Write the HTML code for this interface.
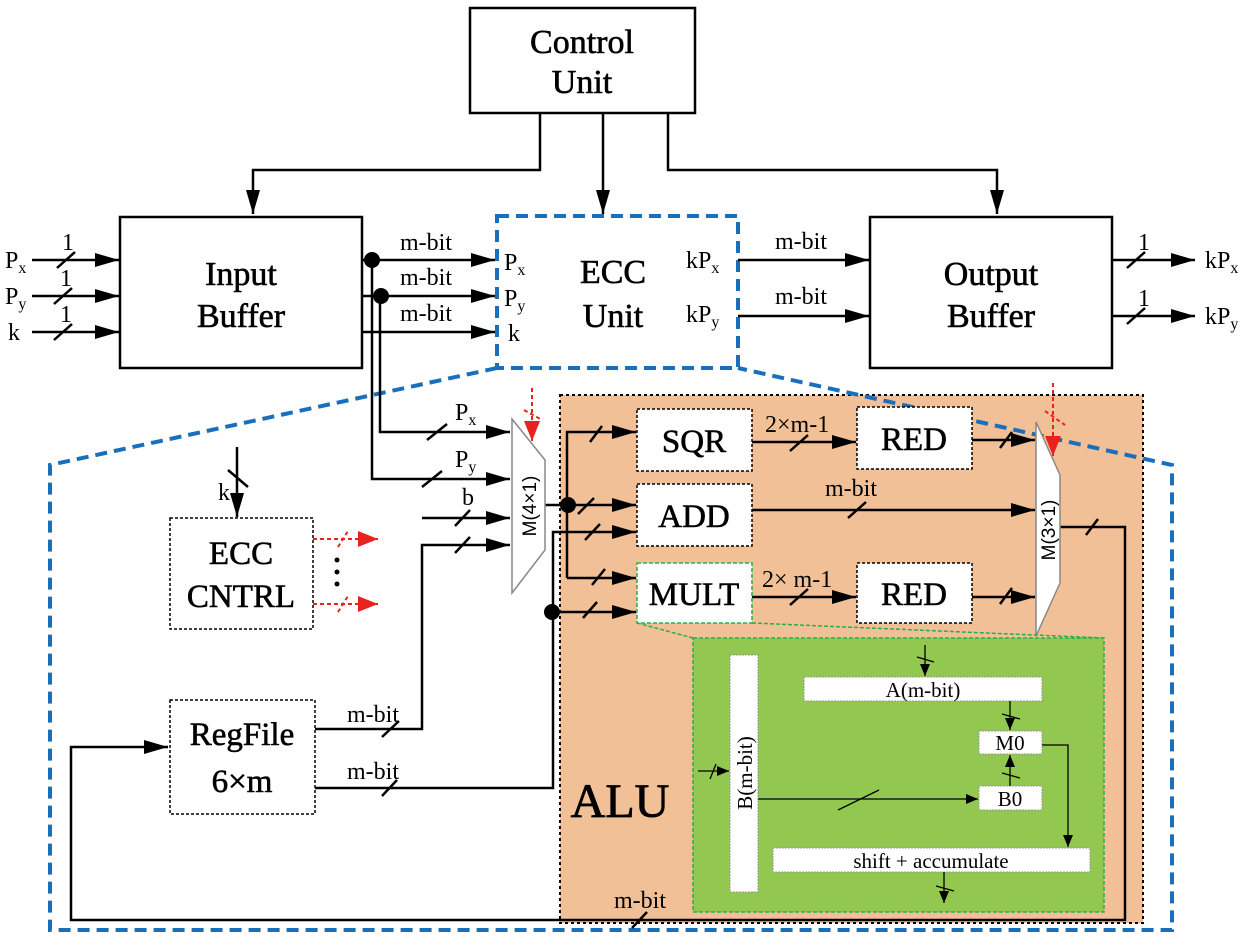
<!DOCTYPE html>
<html><head><meta charset="utf-8"><style>
html,body{margin:0;padding:0;background:#fff}
svg{display:block}
text{font-family:"Liberation Serif",serif;fill:#000}
</style></head><body>
<svg width="1250" height="938" viewBox="0 0 1250 938" xmlns="http://www.w3.org/2000/svg">
<defs>
<marker id="ab" viewBox="0 0 10 10" refX="10" refY="5" markerWidth="24" markerHeight="14" markerUnits="userSpaceOnUse" orient="auto" preserveAspectRatio="none"><path d="M0,0L10,5L0,10z" fill="#000"/></marker>
<marker id="ar" viewBox="0 0 10 10" refX="10" refY="5" markerWidth="20" markerHeight="16" markerUnits="userSpaceOnUse" orient="auto" preserveAspectRatio="none"><path d="M0,0L10,5L0,10z" fill="#e8231f"/></marker>
<marker id="as" viewBox="0 0 10 10" refX="10" refY="5" markerWidth="12" markerHeight="10" markerUnits="userSpaceOnUse" orient="auto" preserveAspectRatio="none"><path d="M0,0L10,5L0,10z" fill="#000"/></marker>
</defs>

<rect x="560" y="395" width="583" height="528" fill="#f2c096" stroke="#000" stroke-width="2" stroke-dasharray="3,3"/>

<g fill="none" stroke="#1a6fbd" stroke-width="4" stroke-dasharray="12,7">
<rect x="497" y="216" width="241" height="152"/>
<path d="M497,368 L50,465 L50,930 L1172,930 L1172,465 L738,368"/>
</g>

<g fill="#fff" stroke="#000" stroke-width="2.5">
<rect x="470" y="8" width="225" height="105"/>
<rect x="120" y="217" width="242" height="151"/>
<rect x="870" y="217" width="242" height="151"/>
</g>
<g font-size="34" text-anchor="middle" stroke="#000" stroke-width="0.6">
<text x="582" y="53">Control</text><text x="582" y="93">Unit</text>
<text x="241" y="285">Input</text><text x="241" y="327">Buffer</text>
<text x="991" y="285">Output</text><text x="991" y="327">Buffer</text>
<text x="613" y="283">ECC</text><text x="613" y="327">Unit</text>
</g>

<g stroke="#000" stroke-width="2.5" fill="none">
<path d="M540,113 V170 H253 V214" marker-end="url(#ab)"/>
<path d="M603,113 V214" marker-end="url(#ab)"/>
<path d="M668,113 V170 H997 V214" marker-end="url(#ab)"/>
<path d="M32,260 H119" marker-end="url(#ab)"/>
<path d="M32,296 H119" marker-end="url(#ab)"/>
<path d="M32,332 H119" marker-end="url(#ab)"/>
<path d="M362,260 H495" marker-end="url(#ab)"/>
<path d="M362,296 H495" marker-end="url(#ab)"/>
<path d="M362,332 H495" marker-end="url(#ab)"/>
<path d="M738,260 H869" marker-end="url(#ab)"/>
<path d="M738,316 H869" marker-end="url(#ab)"/>
<path d="M1112,260 H1195" marker-end="url(#ab)"/>
<path d="M1112,316 H1195" marker-end="url(#ab)"/>
<path d="M57,268 L75,252 M54,304 L72,288 M54,340 L72,324 M1127,268 L1145,252 M1127,324 L1145,308"/>
<path d="M372,260 V479 H510" marker-end="url(#ab)"/>
<path d="M380,296 V432 H510" marker-end="url(#ab)"/>
<path d="M422,518 H510" marker-end="url(#ab)"/>
<path d="M315,729 H422 V545 H510" marker-end="url(#ab)"/>
<path d="M315,788 H553 V532 H636" marker-end="url(#ab)"/>
<path d="M545,505 H636" marker-end="url(#ab)"/>
<path d="M567,578 V432 H636" marker-end="url(#ab)"/>
<path d="M567,578 H636" marker-end="url(#ab)"/>
<path d="M552,612 H636" marker-end="url(#ab)"/>
<path d="M752,442 H856" marker-end="url(#ab)"/>
<path d="M752,597 H856" marker-end="url(#ab)"/>
<path d="M752,510 H1035" marker-end="url(#ab)"/>
<path d="M972,440 H1035" marker-end="url(#ab)"/>
<path d="M972,597 H1035" marker-end="url(#ab)"/>
<path d="M1060,527 H1125 V920 H71 V747 H168" marker-end="url(#ab)"/>
<path d="M237,447 V517" marker-end="url(#ab)"/>
<path d="M427,440 L447,424 M422,487 L442,471 M455,526 L470,510 M455,553 L470,537 M590,442 L602,426 M578,514 L594,498 M585,540 L600,524 M592,585 L605,569 M583,618 L597,602 M790,451 L808,435 M848,518 L866,502 M790,605 L808,589 M1000,448 L1012,432 M1000,604 L1012,588 M1086,535 L1098,519 M382,737 L399,721 M382,796 L397,780 M632,928 L647,912 M228,470 L248,487"/>
</g>
<g fill="#000"><circle cx="372" cy="260" r="8"/><circle cx="381" cy="296" r="8"/><circle cx="568" cy="505" r="8"/><circle cx="552" cy="612" r="8"/></g>

<g font-size="24">
<text x="5" y="268">P<tspan font-size="16" dy="5">x</tspan></text>
<text x="5" y="304">P<tspan font-size="16" dy="5">y</tspan></text>
<text x="8" y="340">k</text>
<text x="62" y="250">1</text><text x="60" y="286">1</text><text x="60" y="322">1</text>
<text x="400" y="250">m-bit</text><text x="400" y="285">m-bit</text><text x="400" y="321">m-bit</text>
<text x="504" y="270">P<tspan font-size="16" dy="5">x</tspan></text>
<text x="504" y="306">P<tspan font-size="16" dy="5">y</tspan></text>
<text x="508" y="341">k</text>
<text x="686" y="268">kP<tspan font-size="16" dy="5">x</tspan></text>
<text x="686" y="322">kP<tspan font-size="16" dy="5">y</tspan></text>
<text x="775" y="249">m-bit</text><text x="775" y="304">m-bit</text>
<text x="1138" y="250">1</text><text x="1138" y="306">1</text>
<text x="1205" y="268">kP<tspan font-size="16" dy="5">x</tspan></text>
<text x="1205" y="324">kP<tspan font-size="16" dy="5">y</tspan></text>
<text x="455" y="420">P<tspan font-size="16" dy="5">x</tspan></text>
<text x="455" y="467">P<tspan font-size="16" dy="5">y</tspan></text>
<text x="462" y="505">b</text>
<text x="218" y="500">k</text>
<text x="347" y="722">m-bit</text><text x="347" y="779">m-bit</text>
<text x="765" y="432">2×m-1</text>
<text x="825" y="496">m-bit</text>
<text x="762" y="587">2× m-1</text>
<text x="614" y="908">m-bit</text>
</g>

<polygon points="512,419 545,460 545,550 512,593" fill="#fff" stroke="#888" stroke-width="1.5"/>
<text transform="translate(536,506) rotate(-90)" font-size="19" text-anchor="middle" style="font-family:'Liberation Sans',sans-serif">M(4×1)</text>
<polygon points="1036,422 1060,475 1060,583 1036,636" fill="#fff" stroke="#888" stroke-width="1.5"/>
<text transform="translate(1055,530) rotate(-90)" font-size="19" text-anchor="middle" style="font-family:'Liberation Sans',sans-serif">M(3×1)</text>

<g stroke="#e8231f" stroke-width="2" fill="none" stroke-dasharray="4,3">
<path d="M532,388 V441" marker-end="url(#ar)"/>
<path d="M524,410 L542,420"/>
<path d="M1053,383 V456" marker-end="url(#ar)"/>
<path d="M1045,411 L1065,425"/>
<path d="M313,539 H378" marker-end="url(#ar)"/>
<path d="M313,604 H378" marker-end="url(#ar)"/>
<path d="M338,547 L348,531 M338,612 L348,596"/>
</g>
<g fill="#000"><circle cx="337" cy="560" r="2.5"/><circle cx="337" cy="572" r="2.5"/><circle cx="337" cy="584" r="2.5"/></g>

<g fill="#fff" stroke="#000" stroke-width="1.5" stroke-dasharray="3,2">
<rect x="170" y="518" width="143" height="111"/>
<rect x="170" y="700" width="145" height="114"/>
</g>
<g font-size="33" text-anchor="middle" stroke="#000" stroke-width="0.6">
<text x="241" y="564">ECC</text><text x="241" y="607">CNTRL</text>
<text x="242" y="745">RegFile</text><text x="242" y="792">6×m</text>
</g>

<g fill="#fff" stroke="#000" stroke-width="1.5" stroke-dasharray="3,2">
<rect x="637" y="409" width="115" height="62"/>
<rect x="637" y="484" width="115" height="62"/>
<rect x="857" y="407" width="115" height="62"/>
<rect x="857" y="563" width="115" height="60"/>
</g>
<rect x="637" y="563" width="115" height="60" fill="#fff" stroke="#22b14c" stroke-width="1.5" stroke-dasharray="4,2"/>
<g font-size="33" text-anchor="middle" stroke="#000" stroke-width="0.6">
<text x="694" y="452">SQR</text><text x="694" y="527">ADD</text><text x="694" y="605">MULT</text>
<text x="914" y="450">RED</text><text x="914" y="605">RED</text>
</g>
<text x="620" y="817" font-size="48" text-anchor="middle" stroke="#000" stroke-width="0.8">ALU</text>

<path d="M637,623 L693,638 M752,623 L1104,638" stroke="#22b14c" stroke-width="1.5" stroke-dasharray="4,2" fill="none"/>
<rect x="693" y="638" width="411" height="274" fill="#92c850" stroke="#22b14c" stroke-width="1.5" stroke-dasharray="4,2"/>
<g fill="#fff" stroke="#999" stroke-width="1" stroke-dasharray="2,1">
<rect x="730" y="655" width="28" height="237"/>
<rect x="804" y="677" width="238" height="24"/>
<rect x="979" y="731" width="63" height="23"/>
<rect x="979" y="786" width="63" height="24"/>
<rect x="773" y="848" width="317" height="24"/>
</g>
<g font-size="21" text-anchor="middle">
<text transform="translate(752,773) rotate(-90)">B(m-bit)</text>
<text x="923" y="697">A(m-bit)</text>
<text x="1010" y="750">M0</text>
<text x="1010" y="806">B0</text>
<text x="931" y="868">shift + accumulate</text>
</g>
<g stroke="#000" stroke-width="1.3" fill="none">
<path d="M925,645 V676" marker-end="url(#as)"/>
<path d="M1010,701 V730" marker-end="url(#as)"/>
<path d="M1010,786 V755" marker-end="url(#as)"/>
<path d="M1042,745 H1068 V847" marker-end="url(#as)"/>
<path d="M758,799 H978" marker-end="url(#as)"/>
<path d="M698,771 H729" marker-end="url(#as)"/>
<path d="M944,872 V903" marker-end="url(#as)"/>
<path d="M917,657 L934,662 M1002,714 L1020,719 M1002,773 L1020,778 M838,810 L879,790 M710,779 L716,764 M936,886 L954,891"/>
</g>
</svg>
</body></html>
